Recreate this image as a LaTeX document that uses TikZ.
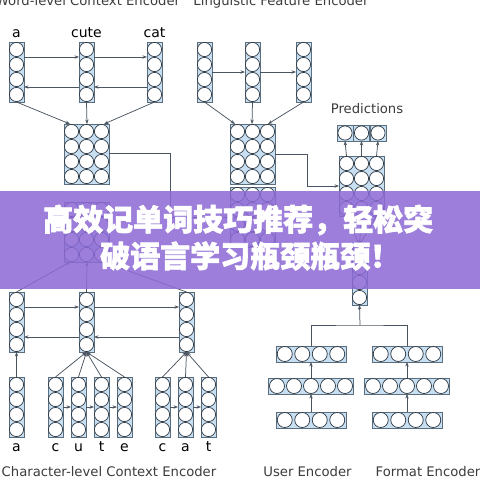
\documentclass[tikz,border=0pt]{standalone}
\usepackage{fontspec}
\setmainfont{DejaVu Sans}
\newfontfamily\cjk{Noto Sans CJK SC}[BoldFeatures={FakeBold=2}]
\usetikzlibrary{arrows.meta,calc}
\definecolor{boxfill}{HTML}{C8DFF2}
\definecolor{boxline}{HTML}{5B6E7E}
\definecolor{circline}{HTML}{2E3A46}
\definecolor{arrowc}{HTML}{4A5561}
\definecolor{titlec}{HTML}{3C3C3C}
\definecolor{bannerc}{HTML}{8E6AD6}
\tikzset{
  gridbox/.style={draw=boxline, fill=boxfill, line width=0.8pt, inner sep=0pt, outer sep=0pt},
  circ/.style={draw=circline, fill=white, line width=0.7pt},
  arr/.style={draw=arrowc, line width=0.75pt, -{Stealth[length=4.5pt,width=3.4pt]}},
  ln/.style={draw=arrowc, line width=0.75pt},
  ttl/.style={text=titlec, font=\fontsize{13.2}{14}\selectfont, anchor=base, inner sep=0pt},
  lbl/.style={text=black, font=\fontsize{14}{15}\selectfont, anchor=base, inner sep=0pt},
  cjktext/.style={text=white, font=\cjk\bfseries\fontsize{30}{32}\selectfont, anchor=west, inner sep=0pt}
}
% vertical/block grid of circles: name, x, y (top-left), ncols, nrows
\newcommand\cgrid[5]{%
  \node[gridbox, minimum width=#4*15pt, minimum height=#5*15pt, anchor=north west] (#1) at (#2,#3) {};
  \foreach \ii in {1,...,#4}{\foreach \jj in {1,...,#5}{%
    \draw[circ] ({#2+\ii*15-7.5},{#3+\jj*15-7.5}) circle (7.1pt);}}%
}
% horizontal row: name, centre x, top y, n, pitch
\newcommand\hrow[5]{%
  \node[gridbox, minimum width=#4*#5pt, minimum height=16pt, anchor=north] (#1) at (#2,#3) {};
  \foreach \ii in {1,...,#4}{%
    \draw[circ] ({#2-#4*#5/2+(\ii-0.5)*#5},{#3+8}) circle (7.5pt);}%
}
\begin{document}
\begin{tikzpicture}[x=1pt,y=-1pt]
\useasboundingbox (0,0) rectangle (480,480);
\clip (0,0) rectangle (480,480);
\fill[white] (0,0) rectangle (480,480);

% ---------- titles ----------
\node[ttl] (t1) at (88,5.5) {Word-level Context Encoder};
\node[ttl] (t2) at (281,5.5) {Linguistic Feature Encoder};
\node[ttl] (t3) at (367,113.5) {Predictions};
\node[ttl] (t4) at (109,476.5) {Character-level Context Encoder};
\node[ttl] (t5) at (307.5,476.5) {User Encoder};
\node[ttl] (t6) at (428,476.5) {Format Encoder};

% ---------- word-level context encoder ----------
\cgrid{wa}{9}{42}{1}{4}
\cgrid{wcute}{79}{42}{1}{4}
\cgrid{wcat}{147}{42}{1}{4}
\node[lbl] (la1) at (16.5,37.5) {a};
\node[lbl] (la2) at (86.5,37.5) {cute};
\node[lbl] (la3) at (154.5,37.5) {cat};
\cgrid{wm}{64}{124}{3}{4}
\draw[arr] ($(wa.north east)+(0,15)$) -- ($(wcute.north west)+(0,15)$);
\draw[arr] ($(wcute.north east)+(0,15)$) -- ($(wcat.north west)+(0,15)$);
\draw[arr] ($(wcat.north west)+(0,45)$) -- ($(wcute.north east)+(0,45)$);
\draw[arr] ($(wcute.north west)+(0,45)$) -- ($(wa.north east)+(0,45)$);
\draw[arr] (wa.south) -- ($(wm.north west)+(6,0)$);
\draw[arr] (wcute.south) -- ($(wm.north west)+(23,0)$);
\draw[arr] (wcat.south) -- ($(wm.north east)+(-5,0)$);

% ---------- linguistic feature encoder ----------
\cgrid{lia}{197}{42}{1}{4}
\cgrid{lib}{245}{42}{1}{4}
\cgrid{lic}{296}{42}{1}{4}
\cgrid{lm}{230}{124}{3}{4}
\cgrid{ll}{230}{187}{3}{4}
\draw[arr] ($(lia.north east)+(0,30)$) -- ($(lib.north west)+(0,30)$);
\draw[arr] ($(lib.north east)+(0,30)$) -- ($(lic.north west)+(0,30)$);
\draw[arr] (lia.south) -- ($(lm.north west)+(5,0)$);
\draw[arr] (lib.south) -- ($(lm.north west)+(22,0)$);
\draw[arr] (lic.south) -- ($(lm.north east)+(-7,0)$);

% ---------- predictions ----------
\cgrid{pm}{339}{156}{3}{4}
\foreach \nm/\cx in {o1/345,o2/361.5,o3/378}{%
  \node[gridbox, minimum width=16pt, minimum height=16pt] (\nm) at (\cx,133) {};
  \draw[circ] (\cx,133) circle (7.1pt);
}
\draw[arr] ($(pm.north west)+(7.5,0)$) -- (o1.south);
\draw[arr] ($(pm.north west)+(22.5,0)$) -- (o2.south);
\draw[arr] ($(pm.north west)+(37.5,0)$) -- (o3.south);
\cgrid{uc}{352}{245}{1}{4}
\draw[arr] ($(pm.south west)+(7.5,0)$) -- (uc.north);
\draw[arr] ($(pm.south west)+(22.5,0)$) -- (uc.north);
\draw[arr] ($(pm.south west)+(37.5,0)$) -- (uc.north);

% word / linguistic outputs
\coordinate (wturn) at (170,217);
\draw[arr] ($(wm.north east)+(0,29)$) -| (wturn) -- ($(ll.north west)+(0,30)$);
\coordinate (lturn) at (307,186);
\draw[arr] ($(lm.north east)+(0,30)$) -| (lturn) -- ($(pm.north west)+(0,30)$);

% ---------- user / format encoders ----------
\hrow{utop}{311}{346}{4}{17.5}
\hrow{umid}{311}{378}{5}{17}
\hrow{ubot}{311}{412}{4}{17.5}
\hrow{ftop}{407}{346}{4}{17.5}
\hrow{fmid}{407}{378}{5}{17}
\hrow{fbot}{407}{412}{4}{17.5}
\draw[arr] (ubot.north) -- (umid.south);
\draw[arr] (umid.north) -- (utop.south);
\draw[arr] (fbot.north) -- (fmid.south);
\draw[arr] (fmid.north) -- (ftop.south);
\coordinate (merge) at (360,325);
\draw[ln] (utop.north) |- (merge) -| (ftop.north);
\draw[arr] (merge) -- (uc.south);

% ---------- character-level context encoder ----------
\cgrid{cm}{64}{202}{3}{4}
\cgrid{ca}{9}{292}{1}{4}
\cgrid{ccute}{79}{292}{1}{4}
\cgrid{ccat}{179}{292}{1}{4}
\draw[arr] (ca.north) -- ($(cm.south west)+(6,0)$);
\draw[arr] (ccute.north) -- ($(cm.south west)+(23,0)$);
\draw[arr] (ccat.north) -- ($(cm.south east)+(-5,0)$);
\draw[arr] ($(ca.north east)+(0,15)$) -- ($(ccute.north west)+(0,15)$);
\draw[arr] ($(ccute.north east)+(0,15)$) -- ($(ccat.north west)+(0,15)$);
\draw[arr] ($(ccat.north west)+(0,45)$) -- ($(ccute.north east)+(0,45)$);
\draw[arr] ($(ccute.north west)+(0,45)$) -- ($(ca.north east)+(0,45)$);

\cgrid{xa}{9}{377}{1}{4}
\cgrid{xc}{48}{377}{1}{4}
\cgrid{xu}{71}{377}{1}{4}
\cgrid{xt}{94}{377}{1}{4}
\cgrid{xe}{117}{377}{1}{4}
\cgrid{yc}{155}{377}{1}{4}
\cgrid{ya}{178}{377}{1}{4}
\cgrid{yt}{201}{377}{1}{4}
\draw[arr] (xa.north) -- (ca.south);
\foreach \nm in {xc,xu,xt,xe}{\draw[arr] (\nm.north) -- (ccute.south);}
\foreach \nm in {yc,ya,yt}{\draw[arr] (\nm.north) -- (ccat.south);}
\foreach \p/\q in {xc/xu,xu/xt,xt/xe,yc/ya,ya/yt}{%
  \draw[arr] ($(\p.north east)+(0,30)$) -- ($(\q.north west)+(0,30)$);}
\foreach \nm/\ch in {xa/a,xc/c,xu/u,xt/t,xe/e,yc/c,ya/a,yt/t}{%
  \node[lbl] (l\nm) at ($(\nm.south)+(0,14)$) {\ch};}

% ---------- banner ----------
\fill[bannerc, fill opacity=0.86] (0,191) rectangle (480,289);
\node[cjktext] (b1) at (43,220) {高效记单词技巧推荐，轻松突};
\node[cjktext] (b2) at (100,256) {破语言学习瓶颈瓶颈！};
\end{tikzpicture}
\end{document}
